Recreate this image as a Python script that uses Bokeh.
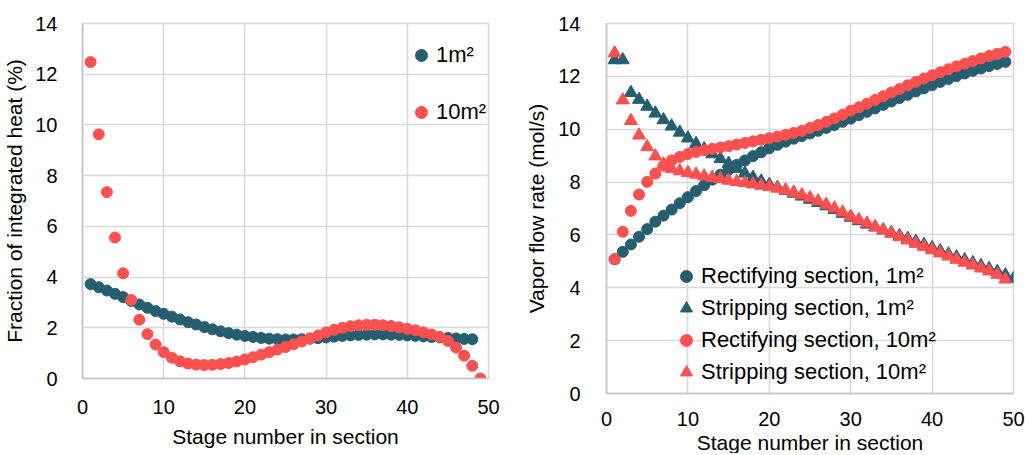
from bokeh.plotting import figure
from bokeh.layouts import row
from bokeh.models import Legend, LegendItem, FixedTicker, Range1d
from bokeh.embed import file_html
from bokeh.resources import INLINE

TEAL = "#255E6F"
RED = "#FF5050"
GRID = "#D9D9D9"
AXIS = "#C4C4C4"
FONT = "Liberation Sans"

x_ticks = [0, 10, 20, 30, 40, 50]
y_ticks = [0, 2, 4, 6, 8, 10, 12, 14]

# Left chart: fraction of integrated heat (%)
heat_stages_1m2 = list(range(1, 49))
heat_1m2 = [3.72, 3.60, 3.47, 3.34, 3.21, 3.06, 2.92, 2.79, 2.66, 2.55,
            2.44, 2.33, 2.22, 2.13, 2.03, 1.94, 1.86, 1.79, 1.73, 1.68,
            1.64, 1.60, 1.57, 1.55, 1.54, 1.54, 1.55, 1.57, 1.59, 1.62,
            1.65, 1.68, 1.70, 1.72, 1.73, 1.74, 1.74, 1.73, 1.72, 1.70,
            1.68, 1.66, 1.64, 1.62, 1.60, 1.58, 1.56, 1.55]
heat_stages_10m2 = list(range(1, 50))
heat_10m2 = [12.48, 9.63, 7.35, 5.56, 4.15, 3.10, 2.32, 1.75, 1.34, 1.04,
             0.82, 0.68, 0.59, 0.55, 0.53, 0.54, 0.57, 0.61, 0.67, 0.75,
             0.84, 0.94, 1.04, 1.14, 1.24, 1.35, 1.46, 1.58, 1.70, 1.82,
             1.92, 2.00, 2.06, 2.10, 2.12, 2.12, 2.10, 2.07, 2.02, 1.96,
             1.90, 1.82, 1.74, 1.64, 1.48, 1.22, 0.90, 0.50, 0.00]

# Right chart: vapor flow rate (mol/s)
rect_stages = list(range(1, 50))
rect_1m2 = [5.08, 5.36, 5.64, 5.93, 6.22, 6.50, 6.73, 6.96, 7.20, 7.43,
            7.66, 7.88, 8.09, 8.28, 8.47, 8.65, 8.82, 8.98, 9.13, 9.28,
            9.41, 9.53, 9.64, 9.74, 9.84, 9.94, 10.05, 10.16, 10.28, 10.40,
            10.53, 10.66, 10.79, 10.92, 11.05, 11.18, 11.30, 11.43, 11.55, 11.67,
            11.79, 11.90, 12.01, 12.11, 12.21, 12.30, 12.39, 12.47, 12.55]
rect_10m2 = [5.08, 6.12, 6.91, 7.53, 8.01, 8.32, 8.62, 8.82, 8.95, 9.06,
             9.14, 9.20, 9.26, 9.31, 9.36, 9.42, 9.48, 9.54, 9.60, 9.66,
             9.72, 9.79, 9.86, 9.94, 10.05, 10.16, 10.28, 10.41, 10.55, 10.70,
             10.83, 10.97, 11.11, 11.25, 11.39, 11.52, 11.66, 11.79, 11.92, 12.04,
             12.16, 12.27, 12.38, 12.48, 12.58, 12.68, 12.77, 12.85, 12.93]
strip_stages_1m2 = list(range(1, 51))
strip_1m2 = [12.62, 12.62, 11.38, 11.12, 10.86, 10.60, 10.35, 10.11, 9.88, 9.66,
             9.45, 9.25, 9.06, 8.88, 8.70, 8.50, 8.33, 8.17, 8.03, 7.90,
             7.79, 7.68, 7.57, 7.46, 7.34, 7.22, 7.09, 6.95, 6.81, 6.66,
             6.53, 6.40, 6.29, 6.18, 6.08, 5.97, 5.86, 5.75, 5.63, 5.51,
             5.39, 5.27, 5.16, 5.05, 4.94, 4.83, 4.72, 4.61, 4.48, 4.34]
strip_stages_10m2 = list(range(1, 50))
strip_10m2 = [12.88, 11.10, 10.32, 9.77, 9.33, 8.98, 8.68, 8.50, 8.42, 8.35,
              8.29, 8.22, 8.17, 8.12, 8.06, 8.01, 7.97, 7.92, 7.87, 7.82,
              7.76, 7.69, 7.61, 7.51, 7.40, 7.28, 7.15, 7.01, 6.86, 6.70,
              6.57, 6.44, 6.31, 6.18, 6.05, 5.92, 5.80, 5.67, 5.55, 5.43,
              5.31, 5.19, 5.07, 4.96, 4.85, 4.74, 4.63, 4.50, 4.32]


def style(p, xlabel, ylabel, xs_std, xl_std, ys_std, yl_std):
    p.x_range = Range1d(0, 50)
    p.y_range = Range1d(0, 14)
    p.xaxis.ticker = FixedTicker(ticks=x_ticks)
    p.yaxis.ticker = FixedTicker(ticks=y_ticks)
    p.xaxis.axis_label = xlabel
    p.yaxis.axis_label = ylabel
    for g in (p.xgrid, p.ygrid):
        g.grid_line_color = GRID
        g.grid_line_width = 1.6
    p.outline_line_color = GRID
    p.outline_line_width = 1.6
    p.axis.axis_line_color = AXIS
    p.axis.axis_line_width = 1.6
    p.axis.major_tick_line_color = None
    p.axis.minor_tick_line_color = None
    p.axis.major_label_text_font = FONT
    p.axis.major_label_text_font_size = "20px"
    p.axis.major_label_text_color = "#000000"
    p.axis.axis_label_text_font = FONT
    p.axis.axis_label_text_font_size = "21px"
    p.axis.axis_label_text_font_style = "normal"
    p.axis.axis_label_text_color = "#000000"
    p.xaxis.major_label_standoff = xs_std
    p.xaxis.axis_label_standoff = xl_std
    p.yaxis.major_label_standoff = ys_std
    p.yaxis.axis_label_standoff = yl_std
    p.background_fill_color = "white"
    p.border_fill_color = "white"


def make_legend(items, loc, spacing, standoff):
    lg = Legend(items=items, location=loc)
    lg.border_line_color = None
    lg.background_fill_alpha = 0
    lg.padding = 0
    lg.margin = 0
    lg.spacing = spacing
    lg.label_height = 30
    lg.glyph_height = 30
    lg.glyph_width = 30
    lg.label_standoff = standoff
    lg.label_text_font = FONT
    lg.label_text_font_size = "22px"
    lg.label_text_color = "#000000"
    return lg


# ---------- left figure ----------
p1 = figure(frame_width=406, frame_height=355, output_backend="svg",
            toolbar_location=None, min_border_left=73, min_border_right=21,
            min_border_top=23, min_border_bottom=10, align="start")
style(p1, "Stage number in section", "Fraction of integrated heat (%)", 15, 8, 19, 6)
r1 = p1.scatter(heat_stages_1m2, heat_1m2, marker="circle", size=11,
                fill_color=TEAL, line_color=TEAL)
r2 = p1.scatter(heat_stages_10m2, heat_10m2, marker="circle", size=11,
                fill_color=RED, line_color=RED)
p1.add_layout(make_legend([LegendItem(label="1m²", renderers=[r1]),
                           LegendItem(label="10m²", renderers=[r2])],
                          (324, 251), 27, -6))

# ---------- right figure ----------
p2 = figure(frame_width=407, frame_height=370, output_backend="svg",
            toolbar_location=None, min_border_left=97, min_border_right=12,
            min_border_top=20, min_border_bottom=10, align="start")
style(p2, "Stage number in section", "Vapor flow rate (mol/s)", 12, 2, 20, 7)
s1 = p2.scatter(rect_stages, rect_1m2, marker="circle", size=11,
                fill_color=TEAL, line_color=TEAL)
s2 = p2.scatter(strip_stages_1m2, strip_1m2, marker="triangle", size=13,
                fill_color=TEAL, line_color=TEAL)
s3 = p2.scatter(rect_stages, rect_10m2, marker="circle", size=11,
                fill_color=RED, line_color=RED)
s4 = p2.scatter(strip_stages_10m2, strip_10m2, marker="triangle", size=13,
                fill_color=RED, line_color=RED)
p2.add_layout(make_legend([LegendItem(label="Rectifying section, 1m²", renderers=[s1]),
                           LegendItem(label="Stripping section, 1m²", renderers=[s2]),
                           LegendItem(label="Rectifying section, 10m²", renderers=[s3]),
                           LegendItem(label="Stripping section, 10m²", renderers=[s4])],
                          (65, 6), 2, -12))

layout = row(p1, p2)
open("out.html", "w").write(file_html(layout, INLINE))
